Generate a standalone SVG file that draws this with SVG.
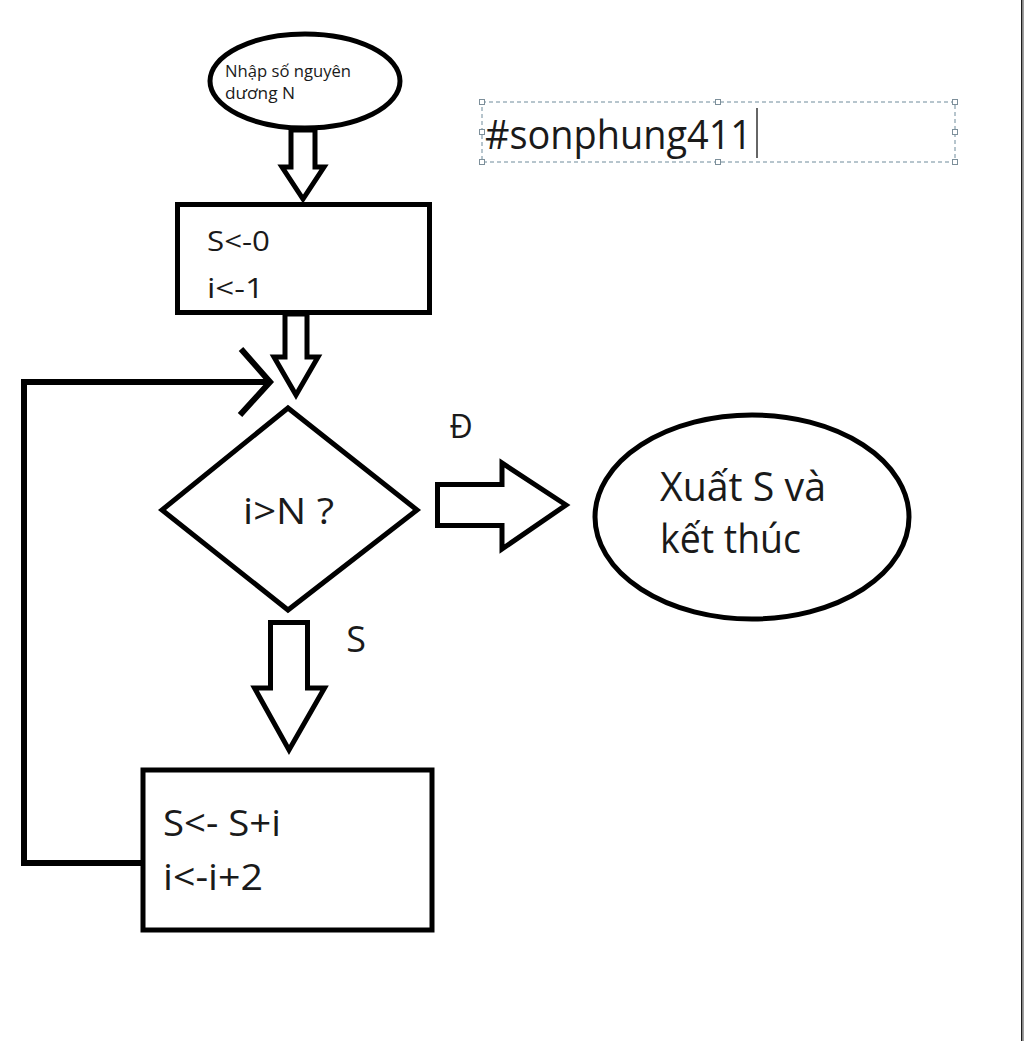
<svg xmlns="http://www.w3.org/2000/svg" width="1024" height="1041" viewBox="0 0 1024 1041">
  <style>
    .shape { fill: #ffffff; stroke: #000000; stroke-width: 5; stroke-linejoin: miter; }
    .line { fill: none; stroke: #000000; stroke-width: 6; stroke-linejoin: miter; stroke-linecap: butt; }
    .txt { font-family: "Open Sans", "Noto Sans", "Liberation Sans", sans-serif; fill: #1a1a1a; }
    .handle { fill: #ffffff; stroke: #7d8f9a; stroke-width: 1; }
  </style>
  <rect x="0" y="0" width="1024" height="1041" fill="#ffffff"/>
  <rect x="1021" y="0" width="1.6" height="1041" fill="#1e1e1e"/>
  <rect x="1022.6" y="0" width="1.4" height="1041" fill="#a0a0a0"/>

  <g id="connectors">
    <polygon class="shape" points="291,130 315,130 315,167 324,167 303,199 282,167 291,167"/>
    <polygon class="shape" points="285,314 307,314 307,357 318,357 296,395 274,357 285,357"/>
    <polyline class="line" points="143,863 24,863 24,382 268,382"/>
    <polyline class="line" points="241,349 270,382 240,415"/>
    <polygon class="shape" points="437.5,484.5 502,484.5 502,463 566,505 502,549 502,525.5 437.5,525.5"/>
    <polygon class="shape" points="270.5,622.5 307.5,622.5 307.5,688 324.5,688 289,750 254.5,688 270.5,688"/>
    <text class="txt" x="461" y="438" font-size="32" text-anchor="middle">Đ</text>
    <text class="txt" x="356" y="652" font-size="36" text-anchor="middle">S</text>
  </g>

  <g id="start">
    <ellipse class="shape" cx="305" cy="81" rx="95" ry="47" stroke-width="4.5"/>
    <text class="txt" x="225" y="77" font-size="16" textLength="126" lengthAdjust="spacingAndGlyphs">Nhập số nguyên</text>
    <text class="txt" x="225" y="99" font-size="16" textLength="70" lengthAdjust="spacingAndGlyphs">dương N</text>
  </g>

  <g id="init">
    <rect class="shape" x="177.5" y="204.5" width="252" height="108"/>
    <text class="txt" x="207" y="251" font-size="27" textLength="63" lengthAdjust="spacingAndGlyphs">S&lt;-0</text>
    <text class="txt" x="207" y="298" font-size="27" textLength="57" lengthAdjust="spacingAndGlyphs">i&lt;-1</text>
  </g>

  <g id="decision">
    <polygon class="shape" points="288,408 417,510 288,610 162,510"/>
    <text class="txt" x="243" y="524" font-size="36" textLength="91" lengthAdjust="spacingAndGlyphs">i&gt;N ?</text>
  </g>

  <g id="end">
    <ellipse class="shape" cx="752" cy="517" rx="157" ry="102"/>
    <text class="txt" x="660" y="501" font-size="40" textLength="166" lengthAdjust="spacingAndGlyphs">Xuất S và</text>
    <text class="txt" x="660" y="553" font-size="40" textLength="141" lengthAdjust="spacingAndGlyphs">kết thúc</text>
  </g>

  <g id="loop-body">
    <rect class="shape" x="143" y="770" width="289" height="160" stroke-width="6"/>
    <text class="txt" x="163" y="836" font-size="37" textLength="118" lengthAdjust="spacingAndGlyphs">S&lt;- S+i</text>
    <text class="txt" x="163" y="890" font-size="37" textLength="100" lengthAdjust="spacingAndGlyphs">i&lt;-i+2</text>
  </g>

  <g id="watermark">
    <rect x="482" y="102" width="473" height="60" fill="none" stroke="#6f8b9b" stroke-width="1" stroke-dasharray="4 3"/>
    <rect class="handle" x="479.5" y="99.5" width="5" height="5"/>
    <rect class="handle" x="715.5" y="99.5" width="5" height="5"/>
    <rect class="handle" x="952.5" y="99.5" width="5" height="5"/>
    <rect class="handle" x="479.5" y="129.5" width="5" height="5"/>
    <rect class="handle" x="952.5" y="129.5" width="5" height="5"/>
    <rect class="handle" x="479.5" y="159.5" width="5" height="5"/>
    <rect class="handle" x="715.5" y="159.5" width="5" height="5"/>
    <rect class="handle" x="952.5" y="159.5" width="5" height="5"/>
    <text class="txt" x="485" y="149" font-size="40" fill="#111111" textLength="267" lengthAdjust="spacingAndGlyphs">#sonphung411</text>
    <line x1="757" y1="108" x2="757" y2="158" stroke="#333333" stroke-width="1.5"/>
  </g>
</svg>
